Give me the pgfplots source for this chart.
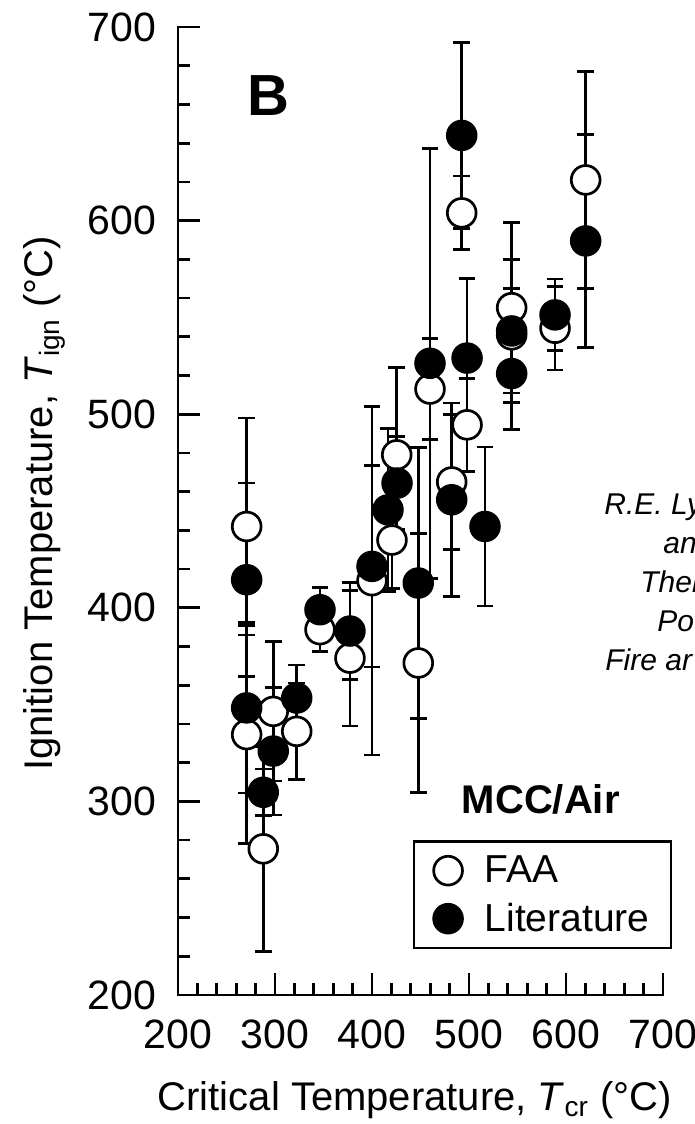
\documentclass[border=0pt]{standalone}
\usepackage{pgfplots}
\pgfplotsset{compat=1.18}
\usepackage{pgfplotstable}
\usepackage{fontspec}
\setmainfont{Liberation Sans}

% FAA measurements: critical temperature, ignition temperature, error
\pgfplotstableread{
x      y      e
270.8  442.0  56.0
270.8  334.5  56.3
287.9  275.5  53.0
298.2  346.5  36.0
322.4  336.2  25.0
346.4  388.7  11.4
377.3  374.0  35.0
400.0  414.0  90.0
420.6  435.0  25.0
425.5  479.0  45.0
447.7  371.5  67.0
459.8  513.0  26.0
482.2  465.0  35.0
498.0  494.5  24.0
492.5  604.0  19.0
544.0  555.0  44.0
544.0  541.0  24.0
588.7  544.4  21.6
620.3  621.0  56.0
}\faa

% Literature values
\pgfplotstableread{
x      y      e
270.8  414.5  50.0
270.8  348.3  44.0
287.9  304.7  12.0
298.2  326.0  33.0
322.4  353.4  17.0
346.4  399.0  11.4
377.3  388.0  25.0
400.0  421.4  52.0
416.5  450.6  42.0
425.8  464.4  24.0
447.7  412.8  70.0
459.8  526.3  111.0
482.2  455.8  50.0
498.0  529.0  41.0
492.5  644.0  48.0
516.5  442.0  41.0
544.0  543.0  37.0
544.0  521.0  29.0
588.7  551.3  18.5
620.3  589.5  55.0
}\lit

\begin{document}
\begin{tikzpicture}
\useasboundingbox (-89pt,-64.5pt) rectangle (258.5pt,497.5pt);
\clip (-89pt,-64.5pt) rectangle (258.5pt,497.5pt);
\begin{axis}[
  scale only axis, width=242.5pt, height=484pt,
  xmin=200, xmax=700, ymin=200, ymax=700,
  axis x line*=bottom, axis y line*=left,
  axis line style={line width=1.35pt, -, line cap=rect},
  xtick={200,300,...,700}, ytick={200,300,...,700},
  minor x tick num=4, minor y tick num=4,
  tick align=inside,
  major tick length=11pt, minor tick length=6pt,
  every tick/.style={black, line width=1.35pt},
  /pgf/number format/assume math mode=true,
  tick label style={font=\fontsize{20.5}{24}\selectfont},
  xticklabel style={yshift=-9pt},
  yticklabel style={xshift=-7.5pt},
  xlabel={Critical Temperature, \textit{T}\textsubscript{cr} (°C)},
  ylabel={Ignition Temperature, \textit{T}\textsubscript{ign} (°C)},
  label style={font=\fontsize{20}{24}\selectfont},
  xlabel style={at={(axis description cs:0.488,-0.119)}, anchor=base},
  ylabel style={at={(axis description cs:-0.258,0.508)}, anchor=base},
  clip=false,
  legend cell align=left,
  legend style={
    at={(axis description cs:0.484,0.160)}, anchor=north west,
    draw=black, line width=1.35pt, fill=white,
    inner xsep=4.3pt, inner ysep=5.6pt,
    row sep=6.0pt, /tikz/column sep=0pt,
    font=\fontsize{19.5}{23}\selectfont,
    nodes={anchor=west, inner xsep=6.5pt, inner ysep=0pt},
  },
  legend image code/.code={
    \path[draw=none, fill=none] (-12.7pt,-9pt) rectangle (11.8pt,9pt);
    \draw[#1] plot coordinates {(0pt,0pt)};
  },
  errbar/.style={
    forget plot, draw=none, mark=none,
    error bars/.cd, y dir=both, y explicit,
    error bar style={draw=black, solid, line width=1.35pt},
    error mark options={rotate=90, draw=black, mark size=4.2pt, line width=1.35pt},
  },
]
% error bars first, so that every circle lies on top of them
\addplot[errbar] table[x=x, y=y, y error=e] {\faa};
\addplot[errbar] table[x=x, y=y, y error=e] {\lit};

\addplot[only marks, mark=*, mark size=7.2pt,
  mark options={draw=black, fill=white, line width=1.35pt}]
  table[x=x, y=y] {\faa};
\addlegendentry{FAA}
\addplot[only marks, mark=*, mark size=7.2pt,
  mark options={draw=black, fill=black, line width=1.35pt}]
  table[x=x, y=y] {\lit};
\addlegendentry{Literature}

\node[font=\fontsize{29}{34}\selectfont\bfseries] at (axis cs:292.8,664.4) {B};
\node[font=\fontsize{20}{24}\selectfont\bfseries, anchor=base] at (axis cs:574,293.7) {MCC/Air};
\end{axis}

% reference note at the right margin
\begin{scope}[every node/.style={anchor=base west, inner sep=0pt,
    font=\fontsize{15}{18}\selectfont\itshape}]
\node at (213pt,240pt) {R.E. Ly};
\node at (242.5pt,220.5pt) {an};
\node at (231pt,201pt) {Ther};
\node at (239.5pt,181.5pt) {Po};
\node at (213.5pt,162pt) {Fire ar};
\end{scope}
\end{tikzpicture}
\end{document}
